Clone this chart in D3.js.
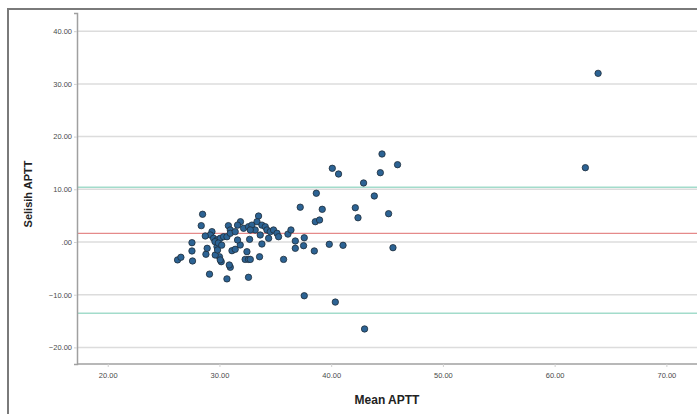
<!DOCTYPE html>
<html>
<head>
<meta charset="utf-8">
<script src="https://cdn.jsdelivr.net/npm/d3@7"></script>
<style>
  body { margin: 0; background: #fff; }
  svg { display: block; font-family: Arial, "Liberation Sans", sans-serif; }
</style>
</head>
<body>
<script>
// Bland-Altman: mean vs difference of APTT
var meanAPTT = [
	44.55, 45.94, 44.40, 40.10, 40.66, 42.90, 43.86, 38.67, 37.23, 39.20,
	38.58, 38.96, 42.16, 42.40, 45.14, 37.59, 37.53, 38.49, 39.83, 41.06,
	45.53, 37.59, 40.37, 42.99, 33.50, 28.49, 28.37, 27.54, 27.54, 27.59,
	28.79, 26.25, 26.55, 29.11, 30.67, 32.60, 30.97, 30.88, 30.16, 30.00,
	33.59, 33.80, 32.70, 35.74, 36.13, 36.40, 36.79, 36.79, 31.88, 31.62,
	30.80, 30.97, 32.16, 32.60, 32.90, 33.36, 33.80, 34.10, 34.25, 34.55,
	34.84, 35.15, 35.29, 34.40, 33.65, 33.20, 32.76, 29.33, 29.18, 28.73,
	29.47, 29.78, 30.07, 30.37, 30.67, 30.97, 31.41, 29.62, 29.78, 29.83,
	31.12, 31.41, 31.86, 31.62, 32.46, 32.30, 32.60, 32.76, 29.60, 29.90,
	30.20, 30.07, 28.90, 63.89, 62.75
];
var selisihAPTT = [
	16.70, 14.67, 13.15, 13.98, 12.90, 11.20, 8.73, 9.25, 6.60, 6.20,
	3.85, 4.17, 6.50, 4.60, 5.37, 0.80, -0.70, -1.70, -0.44, -0.63,
	-1.08, -10.20, -11.40, -16.50, 4.93, 5.26, 3.10, -0.13, -1.70, -3.60,
	-2.33, -3.40, -2.90, -6.10, -7.00, -6.70, -4.80, -4.36, -3.74, -2.80,
	-2.80, -0.38, 0.50, -3.30, 1.50, 2.28, 0.19, -1.20, 3.85, 3.20,
	3.10, 2.28, 2.60, 2.90, 3.20, 3.85, 3.20, 2.90, 2.28, 1.96,
	2.28, 1.65, 1.00, 0.70, 1.33, 2.28, 2.28, 1.96, 1.33, 1.14,
	0.70, 0.38, 0.70, 1.00, 1.00, 1.65, 1.96, -2.47, -0.89, -1.52,
	-1.65, -1.39, -0.57, 0.38, -1.84, -3.30, -3.30, -3.30, 0.06, -0.20,
	-0.60, -3.40, -1.20, 32.00, 14.10
];

var xTicks = [20, 30, 40, 50, 60, 70];
var yTicks = [-20, -10, 0, 10, 20, 30, 40];

// mean difference and limits of agreement
var meanDiff = 1.65;
var upperLimit = 10.38;
var lowerLimit = -13.5;

var width = 697;
var height = 414;

var svg = d3.select("body")
	.append("svg")
	.attr("width", width)
	.attr("height", height);

// outer frame
svg.append("rect")
	.attr("x", 8)
	.attr("y", 9)
	.attr("width", 720)
	.attr("height", 440)
	.attr("fill", "#fff")
	.attr("stroke", "#7a7a7a")
	.attr("stroke-width", 2);

var xScale = d3.scaleLinear()
	.domain([17.25, 73.1])
	.range([77, 701]);

var yScale = d3.scaleLinear()
	.domain([-23.15, 43.45])
	.range([364, 13]);

var fmt = function(d) {
	if (d == 0) return ".00";
	return d3.format(".2f")(d);
};

// gridlines
svg.selectAll(".grid")
	.data(yTicks)
	.enter()
	.append("line")
	.attr("class", "grid")
	.attr("x1", 77)
	.attr("x2", width)
	.attr("y1", function(d) { return yScale(d); })
	.attr("y2", function(d) { return yScale(d); })
	.attr("stroke", "#dcdcdc")
	.attr("stroke-width", 1.5);

// reference lines
svg.append("line")
	.attr("x1", 77).attr("x2", width)
	.attr("y1", yScale(meanDiff)).attr("y2", yScale(meanDiff))
	.attr("stroke", "#e58a8a")
	.attr("stroke-width", 1.2);

svg.selectAll(".loa")
	.data([upperLimit, lowerLimit])
	.enter()
	.append("line")
	.attr("class", "loa")
	.attr("x1", 77).attr("x2", width)
	.attr("y1", function(d) { return yScale(d); })
	.attr("y2", function(d) { return yScale(d); })
	.attr("stroke", "#a3dccb")
	.attr("stroke-width", 1.5);

// axes
var xAxis = svg.append("g")
	.attr("transform", "translate(0,364)")
	.call(d3.axisBottom(xScale).tickValues(xTicks).tickFormat(fmt).tickSize(3).tickPadding(6));

var yAxis = svg.append("g")
	.attr("transform", "translate(77,0)")
	.call(d3.axisLeft(yScale).tickValues(yTicks).tickFormat(fmt).tickSize(3).tickPadding(2));

[xAxis, yAxis].forEach(function(ax) {
	ax.select(".domain").attr("stroke", "#a0a0a0").attr("stroke-width", 1.5);
	ax.selectAll(".tick line").attr("stroke", "#d0d0d0");
	ax.selectAll(".tick text")
		.attr("fill", "#4a4a4a")
		.style("font-size", "7.5px");
});
xAxis.select(".domain").attr("d", "M77,0H" + width);

// axis titles
svg.append("text")
	.attr("x", 387)
	.attr("y", 404)
	.style("text-anchor", "middle")
	.style("font-size", "12px")
	.style("font-weight", "bold")
	.attr("fill", "#222")
	.text("Mean APTT");

svg.append("text")
	.attr("transform", "translate(32,194) rotate(-90)")
	.style("text-anchor", "middle")
	.style("font-size", "11px")
	.style("font-weight", "bold")
	.attr("fill", "#222")
	.text("Selisih APTT");

// points
svg.selectAll("circle")
	.data(meanAPTT)
	.enter()
	.append("circle")
	.attr("cx", function(d) { return xScale(d); })
	.attr("cy", function(d, i) { return yScale(selisihAPTT[i]); })
	.attr("r", 3.2)
	.attr("fill", "#2c6394")
	.attr("stroke", "#1f2d3a")
	.attr("stroke-width", 0.8);
</script>
</body>
</html>
